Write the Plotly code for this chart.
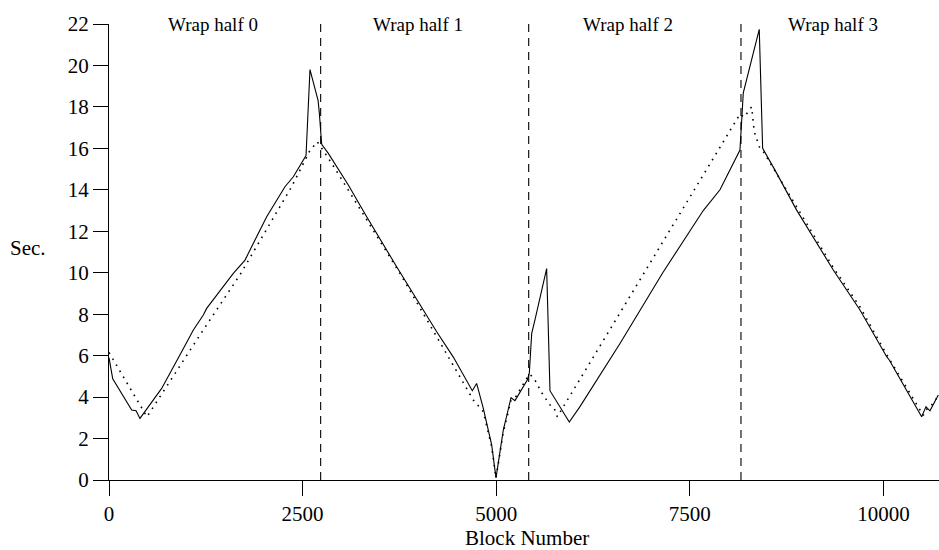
import plotly.graph_objects as go

# ---- data ----
measured_blocks = [0, 48, 293, 349, 400, 680, 938, 1089, 1218, 1261, 1605, 1756, 2036, 2272, 2380,
                   2544, 2595, 2700, 2716, 2746, 2832, 3090, 3327, 3714, 4231, 4446, 4691, 4747,
                   4833, 4941, 4997, 5091, 5191, 5242, 5401, 5427, 5458, 5500, 5651, 5694, 5943,
                   6081, 6600, 7150, 7673, 7889, 8147, 8190, 8396, 8440, 8599, 8879, 9352, 9697,
                   10041, 10075, 10493, 10549, 10600, 10708]
measured_sec = [5.9, 4.88, 3.38, 3.34, 2.97, 4.42, 6.19, 7.24, 7.96, 8.28, 9.97, 10.61, 12.7, 14.15, 14.63,
                15.65, 19.8, 18.3, 17.7, 16.2, 15.76, 14.23, 12.7, 10.29, 7.15, 5.93, 4.31, 4.66,
                3.46, 1.69, 0.1, 2.41, 3.97, 3.83, 4.82, 5.15, 7.08, 7.72, 10.2, 4.31, 2.8,
                3.54, 6.6, 10.0, 13.0, 14.0, 15.92, 18.68, 21.74, 16.0, 14.95, 13.02, 10.13, 8.2,
                5.95, 5.79, 3.05, 3.54, 3.34, 4.1]

model_blocks = [0, 490, 1175, 1691, 2358, 2595, 2690, 2875, 3757, 4274, 4704, 4833, 4941, 4997,
                5091, 5191, 5250, 5393, 5436, 5500, 5587, 5694, 5746, 5788, 8147, 8200, 8298,
                8332, 8396, 8448, 8879, 9352, 9697, 10041, 10514, 10549, 10600, 10717]
model_sec = [6.15, 3.05, 7.0, 9.9, 14.15, 15.9, 16.32, 15.28, 9.97, 6.67, 3.86, 3.3, 1.6, 0.1,
             2.3, 3.85, 4.0, 4.9, 5.1, 4.82, 4.21, 3.62, 3.5, 3.05, 17.65, 17.5, 18.0,
             16.8, 16.08, 15.85, 13.15, 10.25, 8.35, 6.05, 3.12, 3.4, 3.5, 4.1]

wrap_boundaries = [2733, 5419, 8160]
wrap_labels = ["Wrap half 0", "Wrap half 1", "Wrap half 2", "Wrap half 3"]
wrap_label_x = [1343, 3994, 6701, 9352]

x_ticks = [0, 2500, 5000, 7500, 10000]
y_ticks = [0, 2, 4, 6, 8, 10, 12, 14, 16, 18, 20, 22]

FONT = "Liberation Serif, Times New Roman, serif"

fig = go.Figure()
fig.add_trace(go.Scatter(x=model_blocks, y=model_sec, mode="lines",
                         line=dict(color="black", width=1.6, dash="1.6px,5.4px"),
                         showlegend=False, hoverinfo="skip"))
fig.add_trace(go.Scatter(x=measured_blocks, y=measured_sec, mode="lines",
                         line=dict(color="black", width=1.1),
                         showlegend=False, hoverinfo="skip"))

for b in wrap_boundaries:
    fig.add_shape(type="line", xref="x", yref="y", x0=b, x1=b, y0=0, y1=22,
                  line=dict(color="black", width=1.1, dash="8px,6px"), layer="above")

for lx, lt in zip(wrap_label_x, wrap_labels):
    fig.add_annotation(x=lx, y=22, xref="x", yref="y", text=lt, showarrow=False,
                       xanchor="center", yanchor="middle",
                       font=dict(family=FONT, size=19, color="black"))

fig.add_annotation(x=-0.0976, y=0.509, xref="paper", yref="paper", text="Sec.",
                   showarrow=False, xanchor="center", yanchor="middle",
                   font=dict(family=FONT, size=21, color="black"))
fig.add_annotation(x=0.504, y=-0.127, xref="paper", yref="paper", text="Block Number",
                   showarrow=False, xanchor="center", yanchor="middle",
                   font=dict(family=FONT, size=21, color="black"))

axis_common = dict(showgrid=False, zeroline=False, showline=True, linecolor="black",
                   linewidth=1, ticks="outside", ticklen=15, tickwidth=1, tickcolor="black",
                   tickfont=dict(family=FONT, size=21, color="black"))

fig.update_layout(
    width=939, height=550,
    margin=dict(l=109, r=0, t=24, b=70),
    paper_bgcolor="white", plot_bgcolor="white",
    xaxis=dict(range=[0, 10717], tickvals=x_ticks, ticktext=[str(v) for v in x_ticks],
               **axis_common),
    yaxis=dict(range=[0, 22], tickvals=y_ticks, ticktext=[str(v) for v in y_ticks],
               **axis_common),
)

fig.write_html("out.html")
